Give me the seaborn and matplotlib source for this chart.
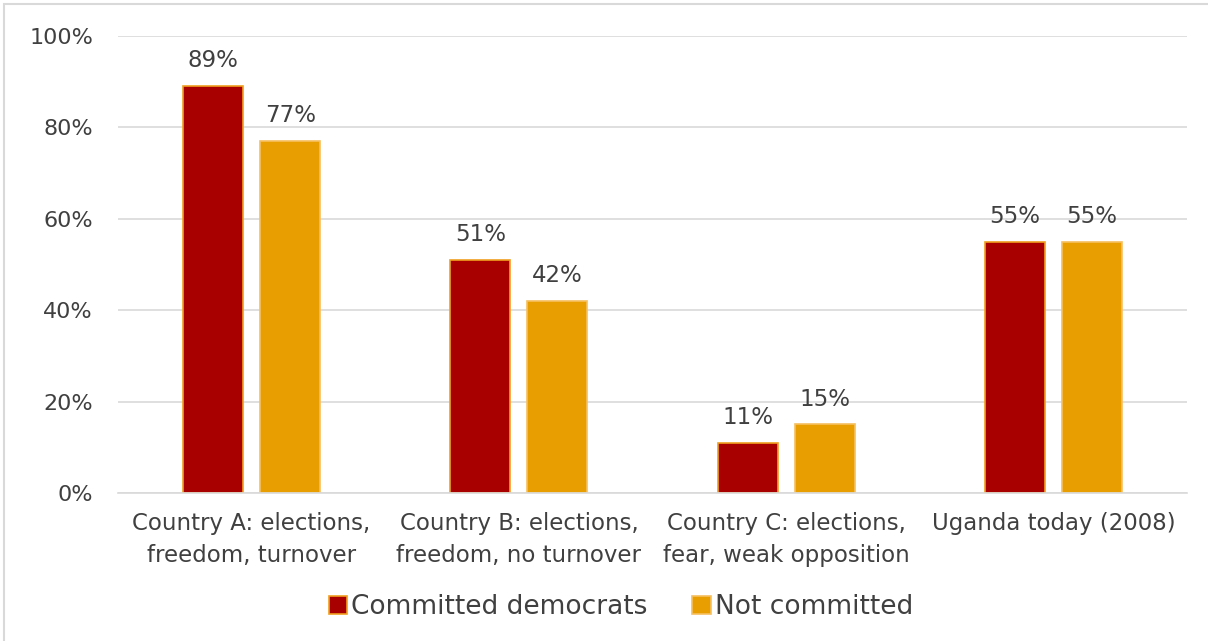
import matplotlib
matplotlib.use("Agg")
import matplotlib.pyplot as plt
from matplotlib.patches import Rectangle
import seaborn as sns
import pandas as pd

categories = [
    "Country A: elections,\nfreedom, turnover",
    "Country B: elections,\nfreedom, no turnover",
    "Country C: elections,\nfear, weak opposition",
    "Uganda today (2008)",
]
committed = [89, 51, 11, 55]
not_committed = [77, 42, 15, 55]
series_names = ["Committed democrats", "Not committed"]
y_ticks = [0, 20, 40, 60, 80, 100]

df = pd.DataFrame({
    "category": categories * 2,
    "series": [series_names[0]] * 4 + [series_names[1]] * 4,
    "value": committed + not_committed,
})

sns.set_theme(style="white")
plt.rcParams["font.family"] = ["DejaVu Sans"]
text_color = "#404040"

fig = plt.figure(figsize=(12.08, 6.41), dpi=100)
ax = fig.add_axes([118 / 1208, 1 - 493 / 641, (1187 - 118) / 1208, (493 - 36) / 641])

palette = {series_names[0]: "#A80000", series_names[1]: "#E89E00"}
sns.barplot(data=df, x="category", y="value", hue="series", palette=palette,
            width=0.577, gap=0.22, ax=ax, saturation=1, legend=False)

edge = {series_names[0]: "#F0A020", series_names[1]: "#F5C060"}
for cont, name in zip(ax.containers, series_names):
    for bar in cont:
        bar.set_edgecolor(edge[name])
        bar.set_linewidth(1.2)
    ax.bar_label(cont, labels=[f"{v:.0f}%" for v in cont.datavalues],
                 padding=10, fontsize=16.5, color=text_color)

ax.set_ylim(0, 100)
ax.set_yticks(y_ticks)
ax.set_yticklabels([f"{t}%" for t in y_ticks])
ax.yaxis.grid(True, color="#D9D9D9", linewidth=1.2)
ax.set_axisbelow(True)
for s in ["top", "right", "left"]:
    ax.spines[s].set_visible(False)
ax.spines["bottom"].set_color("#D9D9D9")
ax.spines["bottom"].set_linewidth(1.2)
ax.tick_params(axis="both", length=0, labelcolor=text_color)
ax.tick_params(axis="x", pad=14, labelsize=16.5)
ax.tick_params(axis="y", pad=18, labelsize=16)
for lbl in ax.get_xticklabels():
    lbl.set_linespacing(1.45)
ax.set_xlabel("")
ax.set_ylabel("")
ax.set_xlim(-0.5, 3.5)

handles = [Rectangle((0, 0), 1, 1, facecolor=palette[n], edgecolor=edge[n], linewidth=1.2)
           for n in series_names]
fig.legend(handles, series_names, loc="center", bbox_to_anchor=(0.514, 1 - 607 / 641),
           ncol=2, frameon=False, fontsize=19, handlelength=0.7, handleheight=0.7,
           handletextpad=0.15, columnspacing=1.7, labelcolor=text_color)

fig.patches.append(Rectangle((4 / 1208, -0.01), 1.02, 1 - 4 / 641 + 0.01,
                             transform=fig.transFigure, fill=False,
                             edgecolor="#D9D9D9", linewidth=1.5))

fig.savefig("out.png", dpi=100, facecolor="white")
